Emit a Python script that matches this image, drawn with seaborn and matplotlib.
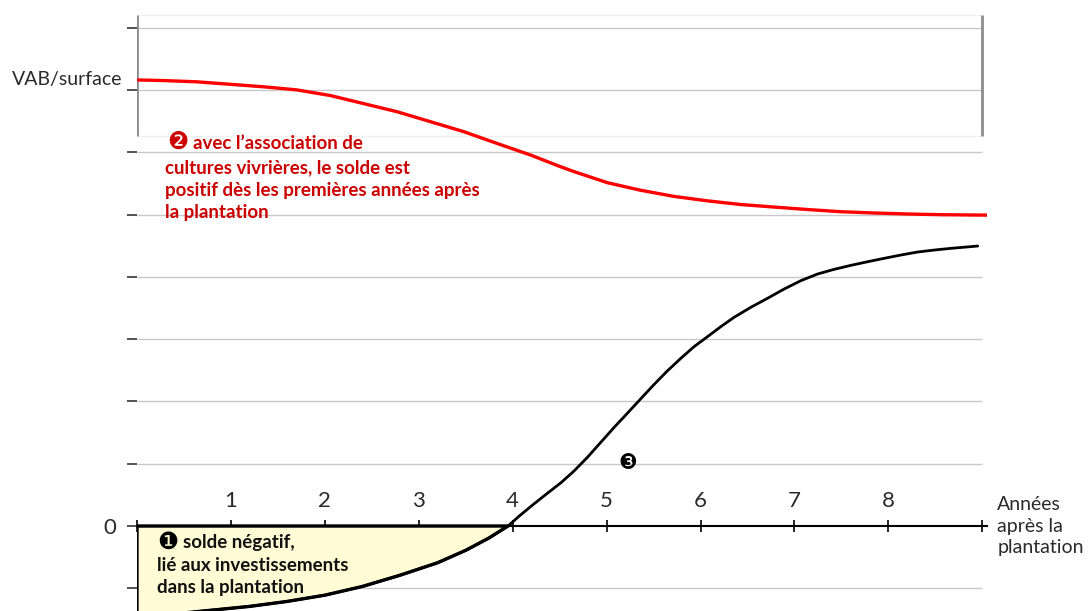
import numpy as np
import pandas as pd
import matplotlib
matplotlib.use("Agg")
import matplotlib.pyplot as plt
import seaborn as sns

# Years after planting shown on the horizontal axis
year_ticks = [0, 1, 2, 3, 4, 5, 6, 7, 8, 9]
year_labels = ["", "1", "2", "3", "4", "5", "6", "7", "8", ""]
level_ticks = [-1, 0, 1, 2, 3, 4, 5, 6, 7, 8]
grid_levels = [-1, 1, 2, 3, 4, 5, 6, 7, 8]

# Balance of the plantation alone: negative phase (investment) then growth
neg_years = [0.0, 0.4, 0.8, 1.2, 1.6, 2.0, 2.4, 2.8, 3.2, 3.5, 3.75, 3.95]
neg_balance = [-1.46, -1.41, -1.35, -1.29, -1.21, -1.11, -0.97, -0.79, -0.59, -0.39, -0.19, 0.0]
pos_years = [4.083, 4.225, 4.368, 4.510, 4.651, 4.794, 4.936, 5.078, 5.221, 5.362,
             5.504, 5.647, 5.789, 5.931, 6.074, 6.215, 6.357, 6.535, 6.713, 6.890,
             7.068, 7.246, 7.423, 7.601, 7.779, 7.956, 8.134, 8.312, 8.490, 8.667, 8.951]
pos_balance = [0.177, 0.353, 0.524, 0.69, 0.88, 1.10, 1.34, 1.58, 1.81, 2.04,
               2.27, 2.49, 2.69, 2.879, 3.039, 3.199, 3.350, 3.510, 3.655, 3.804,
               3.938, 4.045, 4.120, 4.184, 4.242, 4.297, 4.350, 4.398, 4.430, 4.457, 4.494]

# Balance with intercropped food crops
assoc_years = [0.0, 0.281, 0.636, 0.991, 1.347, 1.702, 2.058, 2.413, 2.768, 3.124,
               3.479, 3.835, 4.190, 4.510, 4.65, 5.01, 5.36, 5.72, 6.07, 6.43, 6.78,
               7.14, 7.49, 7.85, 8.21, 8.56, 9.05]
assoc_balance = [7.16, 7.15, 7.13, 7.09, 7.05, 7.00, 6.91, 6.78, 6.65, 6.49,
                 6.33, 6.14, 5.955, 5.767, 5.69, 5.51, 5.39, 5.29, 5.22, 5.16, 5.12,
                 5.08, 5.045, 5.024, 5.008, 4.997, 4.99]

sns.set_theme(style="white")
plt.rcParams["font.family"] = ["Lato", "DejaVu Sans"]

fig = plt.figure(figsize=(10.9, 6.11), dpi=100)
ax = fig.add_axes([137 / 1090, 0.0, 850 / 1090, 1.0])
ax.set_xlim(0, 9.05)
ax.set_ylim(-1.364, 8.443)

light = ["Lato", "DejaVu Sans"]
dingbat = ["DejaVu Sans"]
axis_text = "#2a2a2a"

# Horizontal grid
ax.hlines(grid_levels, year_ticks[0], year_ticks[-1], color="#c8c8c8", lw=1.0, zorder=0)

# Framed upper band
band_lo, band_hi = 6.26, 8.20
ax.vlines([year_ticks[0], year_ticks[-1]], band_lo, band_hi, color="#8c8c8c", lw=2.0, zorder=1)
ax.hlines([band_lo, band_hi], year_ticks[0], year_ticks[-1], color="#f0f0f0", lw=1.0, zorder=0)

# Negative area of the plantation balance
fill_x = neg_years + [neg_years[-1], neg_years[0]]
fill_y = neg_balance + [0.0, 0.0]
ax.fill(fill_x, fill_y, facecolor="#fffcd6", edgecolor="black", lw=2.4, zorder=2,
        joinstyle="round")

df_plant = pd.DataFrame({"annee": neg_years + pos_years, "solde": neg_balance + pos_balance})
df_assoc = pd.DataFrame({"annee": assoc_years, "solde": assoc_balance})
sns.lineplot(data=df_plant, x="annee", y="solde", ax=ax, color="black", lw=2.0,
             sort=True, estimator=None, zorder=3, solid_joinstyle="round")
sns.lineplot(data=df_assoc, x="annee", y="solde", ax=ax, color="#ff0000", lw=2.4,
             sort=True, estimator=None, zorder=3, solid_joinstyle="round")
ax.set_xlabel("")
ax.set_ylabel("")

# Axes: horizontal axis sits on zero with labels above it
for side in ["left", "right", "bottom"]:
    ax.spines[side].set_visible(False)
ax.spines["top"].set_position(("data", 0))
ax.spines["top"].set_color("black")
ax.spines["top"].set_linewidth(1.5)
ax.spines["top"].set_zorder(4)
ax.xaxis.set_ticks_position("top")
ax.set_xticks(year_ticks)
ax.set_xticklabels(year_labels, fontsize=16, color=axis_text, family=light)
ax.tick_params(axis="x", direction="inout", length=8, width=1.2, color="black", pad=7)

ax.set_yticks(level_ticks)
ax.set_yticklabels(["" if v != 0 else "0" for v in level_ticks], fontsize=16,
                   color=axis_text, family=light)
ax.tick_params(axis="y", left=True, direction="out", length=7, width=1.2,
               color="#333333", pad=8)

ax.text(-0.16, 7.16, "VAB/surface", ha="right", va="center", fontsize=14,
        color=axis_text, family=light)
ax.text(9.16, 0.0, "Années\naprès la\nplantation", ha="left", va="center",
        fontsize=14, color=axis_text, family=light, linespacing=1.3)

# Annotation 2 (red)
red = "#cc0000"
ax.text(0.43, 6.17, "❷", ha="center", va="center", fontsize=17, color=red,
        family=dingbat, zorder=5)
ax.text(0.60, 6.14, "avec l’association de", ha="left", va="center", fontsize=13.5,
        fontweight="bold", color=red, zorder=5)
ax.text(0.30, 5.39, "cultures vivrières, le solde est\n"
        "positif dès les premières années après\nla plantation",
        ha="left", va="center", fontsize=13.5, fontweight="bold", color=red,
        linespacing=1.4, zorder=5)

# Annotation 1 (black)
ax.text(0.33, -0.25, "❶", ha="center", va="center", fontsize=17, color="black",
        family=dingbat, zorder=5)
ax.text(0.49, -0.27, "solde négatif,", ha="left", va="center", fontsize=13.5,
        fontweight="bold", color="#111111", zorder=5)
ax.text(0.21, -0.81, "lié aux investissements\ndans la plantation",
        ha="left", va="center", fontsize=13.5, fontweight="bold", color="#111111",
        linespacing=1.4, zorder=5)

# Annotation 3
ax.text(5.23, 1.01, "❸", ha="center", va="center", fontsize=15, color="black",
        family=dingbat, zorder=5)

fig.savefig("out.png", dpi=100)
